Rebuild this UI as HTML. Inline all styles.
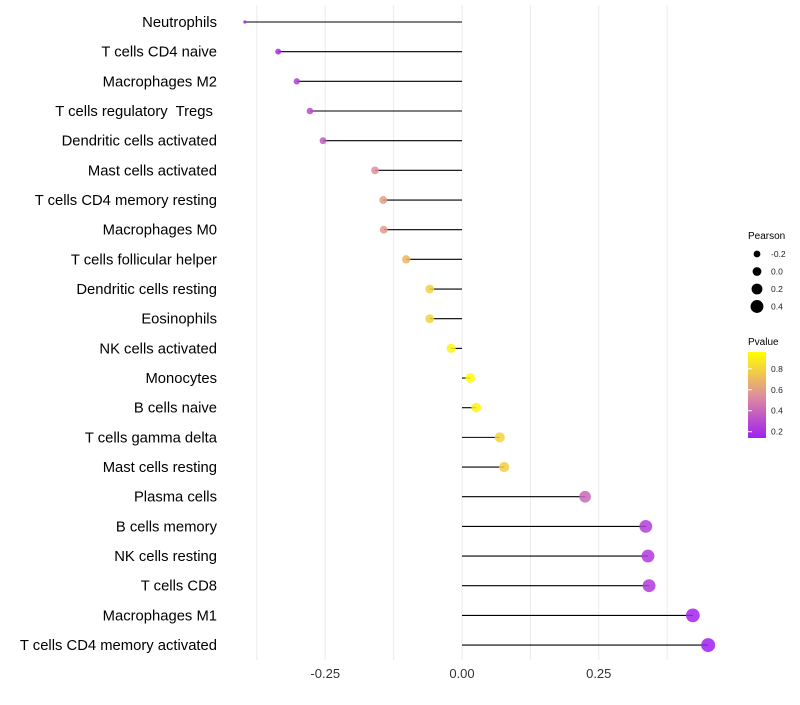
<!DOCTYPE html>
<html><head><meta charset="utf-8"><style>
body{margin:0;background:#fff;font-family:"Liberation Sans",sans-serif}
text{white-space:pre}
</style></head><body>
<svg id="c" width="800" height="700" xmlns="http://www.w3.org/2000/svg" font-family="Liberation Sans, sans-serif">
<defs><linearGradient id="pg" x1="0" y1="1" x2="0" y2="0">
<stop offset="0" stop-color="#a020f0"/><stop offset="0.5" stop-color="#e0909a"/><stop offset="1" stop-color="#ffff00"/></linearGradient></defs>
<g id="grid"></g><g id="marks"></g><g id="labels"></g>
<g>
<text x="748" y="239" font-size="10">Pearson</text>
<g id="sizeleg"></g>
<text x="748" y="345" font-size="10">Pvalue</text>
<rect x="748" y="352" width="18" height="86" fill="url(#pg)"/>
<g id="colleg"></g>
</g>
</svg>
<script>
const categories=["Neutrophils","T cells CD4 naive","Macrophages M2","T cells regulatory  Tregs ","Dendritic cells activated","Mast cells activated","T cells CD4 memory resting","Macrophages M0","T cells follicular helper","Dendritic cells resting","Eosinophils","NK cells activated","Monocytes","B cells naive","T cells gamma delta","Mast cells resting","Plasma cells","B cells memory","NK cells resting","T cells CD8","Macrophages M1","T cells CD4 memory activated"];
const pearson=[-0.397,-0.336,-0.302,-0.278,-0.254,-0.159,-0.144,-0.143,-0.102,-0.059,-0.059,-0.020,0.015,0.026,0.069,0.077,0.225,0.336,0.340,0.342,0.422,0.450];
const pvalue=[0.15,0.2,0.25,0.3,0.35,0.55,0.6,0.6,0.7,0.8,0.8,0.92,0.95,0.92,0.8,0.78,0.4,0.25,0.24,0.24,0.15,0.14];
const xTicks=[-0.25,0,0.25];
const xTickLabels=["-0.25","0.00","0.25"];
const sizeLegend=[-0.2,0.0,0.2,0.4];
const colorLegend=[0.2,0.4,0.6,0.8];
const NS="http://www.w3.org/2000/svg";
const X=v=>462+v*547;
const Y=i=>22+i*29.67;
const R=v=>v<-0.37?1.6:3+(v+0.336)*5.09;
function lerp(a,b,t){return a.map((x,k)=>Math.round(x+(b[k]-x)*t));}
function col(p){const t=Math.max(0,Math.min(1,(p-0.14)/0.82));
 const c=t<0.5?lerp([160,32,240],[224,144,154],t/0.5):lerp([224,144,154],[255,255,0],(t-0.5)/0.5);
 return `rgb(${c.join(',')})`;}
function mk(tag,at,parent){const e=document.createElementNS(NS,tag);for(const k in at)e.setAttribute(k,at[k]);document.getElementById(parent).appendChild(e);return e;}
for(let v=-0.375;v<=0.38;v+=0.125){const g=mk('line',{x1:X(v),x2:X(v),y1:5,y2:660,stroke:'#ebebeb','stroke-width':1},'grid');

}
xTicks.forEach((v,i)=>{const t=mk('text',{x:X(v),y:678,'font-size':13,'text-anchor':'middle',fill:'#333'},'labels');t.textContent=xTickLabels[i];

});
categories.forEach((c,i)=>{
 const t=mk('text',{x:217,y:Y(i)+5,'font-size':14.8,'text-anchor':'end',fill:'#000'},'labels');t.textContent=c;
 
 
 const l=mk('line',{x1:X(0),x2:X(pearson[i]),y1:Y(i),y2:Y(i),stroke:'#000','stroke-width':1.1},'marks');
 
 
 const p=mk('circle',{cx:X(pearson[i]),cy:Y(i),r:R(pearson[i]),fill:col(pvalue[i]),'fill-opacity':0.85},'marks');
 
 
});
sizeLegend.forEach((v,i)=>{const y=254+i*17.5;
 const c=mk('circle',{cx:757,cy:y,r:R(v)-0.3,fill:'#000'},'sizeleg');
 
 
 const t=mk('text',{x:771,y:y+3,'font-size':8.5,fill:'#222'},'sizeleg');t.textContent=v.toFixed(1);
 
 });
colorLegend.forEach(v=>{const y=438-(v-0.14)/0.82*86;
 const t=mk('text',{x:771,y:y+3,'font-size':8.5,fill:'#222'},'colleg');t.textContent=v.toFixed(1);
 
 
 const k=mk('line',{x1:748,x2:752,y1:y,y2:y,stroke:'#fff'},'colleg');
 
 });
</script>
</body></html>
